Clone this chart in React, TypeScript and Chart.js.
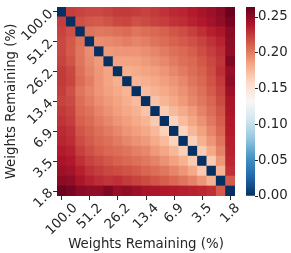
import React, { useEffect, useRef } from 'react';
import { Chart, registerables } from 'chart.js';

Chart.register(...registerables);

// ---------- data ----------
const N = 19; // 100 * 0.8^k, k = 0..18
const tickLabels = ['100.0', '51.2', '26.2', '13.4', '6.9', '3.5', '1.8'];
const tickIndex = [0, 3, 6, 9, 12, 15, 18];
const VMAX = 0.264;
const colorbarTicks = [0, 0.05, 0.1, 0.15, 0.2, 0.25];

// lower triangle of the (symmetric) distance matrix; row i holds columns 0..i-1
const row1 = [0.224];
const row2 = [0.222, 0.217];
const row3 = [0.220, 0.214, 0.204];
const row4 = [0.220, 0.213, 0.202, 0.194];
const row5 = [0.222, 0.216, 0.203, 0.195, 0.189];
const row6 = [0.225, 0.220, 0.205, 0.197, 0.190, 0.185];
const row7 = [0.225, 0.221, 0.207, 0.200, 0.191, 0.185, 0.180];
const row8 = [0.224, 0.217, 0.203, 0.197, 0.191, 0.186, 0.182, 0.177];
const row9 = [0.222, 0.219, 0.206, 0.200, 0.194, 0.189, 0.185, 0.180, 0.174];
const row10 = [0.225, 0.222, 0.208, 0.204, 0.197, 0.192, 0.187, 0.183, 0.178, 0.170];
const row11 = [0.228, 0.224, 0.211, 0.207, 0.201, 0.196, 0.191, 0.187, 0.182, 0.177, 0.166];
const row12 = [0.231, 0.228, 0.215, 0.210, 0.205, 0.201, 0.196, 0.191, 0.187, 0.183, 0.175, 0.163];
const row13 = [0.233, 0.230, 0.218, 0.213, 0.208, 0.205, 0.201, 0.196, 0.192, 0.189, 0.182, 0.174, 0.162];
const row14 = [0.237, 0.234, 0.223, 0.217, 0.212, 0.208, 0.206, 0.203, 0.199, 0.196, 0.189, 0.184, 0.176, 0.164];
const row15 = [0.241, 0.238, 0.229, 0.222, 0.218, 0.214, 0.211, 0.208, 0.205, 0.202, 0.198, 0.192, 0.186, 0.179, 0.166];
const row16 = [0.245, 0.243, 0.235, 0.228, 0.224, 0.220, 0.218, 0.216, 0.213, 0.209, 0.206, 0.202, 0.197, 0.191, 0.183, 0.167];
const row17 = [0.251, 0.249, 0.240, 0.234, 0.230, 0.227, 0.229, 0.225, 0.222, 0.219, 0.215, 0.212, 0.208, 0.203, 0.198, 0.190, 0.178];
const row18 = [0.262, 0.258, 0.252, 0.250, 0.249, 0.255, 0.247, 0.250, 0.245, 0.241, 0.240, 0.238, 0.237, 0.235, 0.234, 0.232, 0.229, 0.213];
const lowerRows: number[][] = [[], row1, row2, row3, row4, row5, row6, row7, row8, row9, row10, row11, row12, row13, row14, row15, row16, row17, row18];

// ---------- style ----------
const FONT_FAMILY = "'DejaVu Sans', sans-serif";
const FONT_SIZE = 13.33;
const TEXT = '#262626';
const TITLE = 'Weights Remaining (%)';
// matplotlib RdBu reversed (low -> high)
const RDBU_R = ['#053061', '#2166ac', '#4393c3', '#92c5de', '#d1e5f0', '#f7f7f7', '#fddbc7', '#f4a582', '#d6604d', '#b2182b', '#67001f'];

function hexToRgb(h: string) {
  return [parseInt(h.slice(1, 3), 16), parseInt(h.slice(3, 5), 16), parseInt(h.slice(5, 7), 16)];
}
function cmap(v: number) {
  const t = Math.min(1, Math.max(0, v / VMAX)) * 10;
  const k = Math.min(9, Math.floor(t));
  const f = t - k;
  const a = hexToRgb(RDBU_R[k]);
  const b = hexToRgb(RDBU_R[k + 1]);
  const c = a.map((x, i) => Math.round(x + (b[i] - x) * f));
  return `rgb(${c[0]},${c[1]},${c[2]})`;
}

function cell(i: number, j: number) {
  if (i === j) return 0;
  return j < i ? lowerRows[i][j] : lowerRows[j][i];
}

const font = { family: FONT_FAMILY, size: FONT_SIZE };

const centerXLabels = {
  id: 'centerXLabels',
  afterLayout(chart: any) {
    const sc = chart.scales.x;
    if (!sc) return;
    const ctx = chart.ctx;
    ctx.save();
    ctx.font = `${FONT_SIZE}px ${FONT_FAMILY}`;
    const ppu = sc.width / N;
    sc.ticks.forEach((t: any, i: number) => {
      const w = ctx.measureText(String(t.label)).width;
      t.value = tickIndex[i] + 0.5 + (w * Math.SQRT1_2 / 2) / ppu;
    });
    ctx.restore();
    sc._labelItems = null;
  },
};

export default function App() {
  const heatRef = useRef<HTMLCanvasElement>(null);
  const barRef = useRef<HTMLCanvasElement>(null);

  useEffect(() => {
    const datasets: any[] = [];
    for (let k = 0; k < N; k++) {
      const r = N - 1 - k;
      const cols = Array.from({ length: N }, (_, j) => j);
      datasets.push({
        data: cols.map((j) => ({ x: j + 0.5, y: 1 })),
        backgroundColor: cols.map((j) => cmap(cell(r, j))),
        borderWidth: 0,
        inflateAmount: 0.4,
        barPercentage: 1,
        categoryPercentage: 1,
      });
    }

    const heat = new Chart(heatRef.current!, {
      type: 'bar',
      data: { datasets },
      plugins: [centerXLabels],
      options: {
        responsive: false,
        animation: false,
        layout: { padding: { top: 7, right: 5, left: 0, bottom: 0 } },
        plugins: { legend: { display: false }, tooltip: { enabled: false } },
        scales: {
          x: {
            type: 'linear',
            position: 'bottom',
            min: 0,
            max: N,
            offset: false,
            stacked: true,
            weight: 1,
            grid: { display: false, offset: false },
            border: { display: false },
            afterBuildTicks: (s: any) => {
              s.ticks = tickIndex.map((j) => ({ value: j + 0.5 }));
            },
            ticks: {
              autoSkip: false,
              minRotation: 45,
              maxRotation: 45,
              padding: -3.5,
              color: TEXT,
              font,
              callback: (_v: any, i: number) => tickLabels[i],
            },
            title: { display: true, text: TITLE, color: TEXT, font, padding: { top: 0, bottom: 0 } },
            afterFit: (s: any) => {
              s.height = 57;
              s.paddingLeft = 0;
              s.paddingRight = 0;
            },
          },
          xt: {
            type: 'linear',
            position: 'bottom',
            min: 0,
            max: N,
            offset: false,
            weight: 0,
            grid: { display: true, drawOnChartArea: false, drawTicks: true, tickLength: 4, color: TEXT, offset: false },
            border: { display: false },
            afterBuildTicks: (s: any) => {
              s.ticks = tickIndex.map((j) => ({ value: j + 0.5 }));
            },
            ticks: { display: false },
            afterFit: (s: any) => {
              s.height = 0;
              s.paddingLeft = 0;
              s.paddingRight = 0;
            },
          },
          y: {
            type: 'linear',
            position: 'left',
            min: 0,
            max: N,
            stacked: true,
            grid: { display: true, drawOnChartArea: false, drawTicks: true, tickLength: 4, color: TEXT },
            border: { display: false },
            afterBuildTicks: (s: any) => {
              s.ticks = tickIndex.map((i) => ({ value: N - 0.5 - i }));
            },
            ticks: {
              autoSkip: false,
              minRotation: 45,
              maxRotation: 45,
              padding: 2,
              color: TEXT,
              font,
              callback: (_v: any, i: number) => tickLabels[i],
            },
            title: { display: true, text: TITLE, color: TEXT, font, padding: { top: 3.5, bottom: 0 } },
            afterFit: (s: any) => {
              s.width = 57;
              s.paddingTop = 0;
              s.paddingBottom = 0;
            },
          },
        },
      } as any,
    });

    const bar = new Chart(barRef.current!, {
      type: 'bar',
      data: {
        labels: [''],
        datasets: [
          {
            data: [[0, VMAX]] as any,
            backgroundColor: (c: any) => {
              const chart = c.chart;
              const ys = chart.scales && chart.scales.y;
              if (!ys || !chart.chartArea) return RDBU_R[5];
              const g = chart.ctx.createLinearGradient(0, ys.getPixelForValue(0), 0, ys.getPixelForValue(VMAX));
              RDBU_R.forEach((col, i) => g.addColorStop(i / 10, col));
              return g;
            },
            borderWidth: 0,
            barPercentage: 1,
            categoryPercentage: 1,
          },
        ],
      },
      options: {
        responsive: false,
        animation: false,
        layout: { padding: { left: 6, top: 7, bottom: 57, right: 0 } },
        plugins: { legend: { display: false }, tooltip: { enabled: false } },
        scales: {
          x: { display: false },
          y: {
            position: 'right',
            min: 0,
            max: VMAX,
            grid: { display: true, drawOnChartArea: false, drawTicks: true, tickLength: 3, color: TEXT },
            border: { display: false },
            afterBuildTicks: (s: any) => {
              s.ticks = colorbarTicks.map((v) => ({ value: v }));
            },
            ticks: {
              padding: 0,
              color: TEXT,
              font,
              callback: (v: any) => Number(v).toFixed(2),
            },
            afterFit: (s: any) => {
              s.width = 36;
              s.paddingTop = 0;
              s.paddingBottom = 0;
            },
          },
        },
      } as any,
    });

    return () => {
      heat.destroy();
      bar.destroy();
    };
  }, []);

  return (
    <div style={{ position: 'absolute', left: 0, top: 0, width: 291, height: 253, background: '#fff' }}>
      <canvas ref={heatRef} width={240} height={253} style={{ position: 'absolute', left: 0, top: 0, width: 240, height: 253 }} />
      <canvas ref={barRef} width={51} height={253} style={{ position: 'absolute', left: 240, top: 0, width: 51, height: 253 }} />
    </div>
  );
}
